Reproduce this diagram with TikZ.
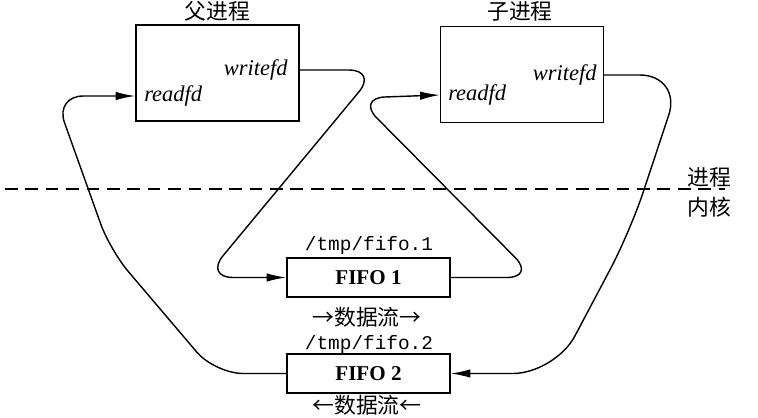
\documentclass[tikz,border=0pt]{standalone}
\usepackage{fontspec}
\setmainfont{Liberation Serif}
\setmonofont{Liberation Mono}
\newfontfamily\cjk{Noto Sans CJK SC}
\usetikzlibrary{arrows.meta,positioning,calc}

\begin{document}
\begin{tikzpicture}[x=0.025cm,y=-0.025cm,
	proc/.style={draw,line width=1pt,minimum width=4.075cm,minimum height=2.4cm},
	fifo/.style={draw,line width=1pt,minimum width=4.075cm,minimum height=0.975cm,font=\bfseries\fontsize{15}{18}\selectfont},
	fd/.style={inner sep=0pt,font=\itshape\fontsize{16}{19}\selectfont},
	zh/.style={inner sep=0pt,font=\cjk\fontsize{15.5}{18}\selectfont},
	fname/.style={inner sep=0pt,font=\ttfamily\fontsize{13.8}{16}\selectfont},
	flow/.style={line width=1pt,rounded corners=20pt,-{Latex[length=14pt,width=6pt]}}]
					\useasboundingbox (0,0) rectangle (758,417);

					% processes
					\node[proc] (fu) at (217.5,73) {};
					\node[proc] (zi) at (522,74.5) {};
					\node[zh] (futitle) at (217.5,11.5) {父进程};
					\node[zh] (zititle) at (520,11.5) {子进程};
					\node[fd,anchor=east] (fuw) at (288,70) {writefd};
					\node[fd,anchor=west] (fur) at (144,96) {readfd};
					\node[fd,anchor=east] (ziw) at (597,75) {writefd};
					\node[fd,anchor=west] (zir) at (448,95) {readfd};

					% user / kernel boundary
					\coordinate (kl) at (5,189);
					\coordinate (kr) at (725,189);
					\draw[line width=0.8pt,dash pattern=on 9pt off 5.5pt] (kl) -- (kr);
					\node[zh] (jc) at (709,177) {进程};
					\node[zh] (nh) at (709,207) {内核};

					% fifos
					\node[fifo] (f1) at (368.5,277.5) {FIFO 1};
					\node[fifo] (f2) at (368.5,373.5) {FIFO 2};
					\node[fname] (f1n) at (369,245) {/tmp/fifo.1};
					\node[fname] (f2n) at (369,344) {/tmp/fifo.2};
					\node[zh] (f1d) at (367,317) {→数据流→};
					\node[zh] (f2d) at (367,405.5) {←数据流←};

					% data paths
					\draw[flow] (fu.east |- fuw) -- (377,70) -- (205,277.5) -- (f1.west);
					\draw[flow] (f1.east) -- (535,277.5) -- (357,98) -- (zi.west |- zir);
					\draw[flow,rounded corners=30pt] (zi.east |- ziw) -- (682,75) -- (630,232) -- (555,373.5) -- (f2.east);
					\draw[flow] (f2.west) -- (215,373.5) -- (110,250) -- (55,96) -- (fu.west |- fur);
				\end{tikzpicture}
\end{document}
